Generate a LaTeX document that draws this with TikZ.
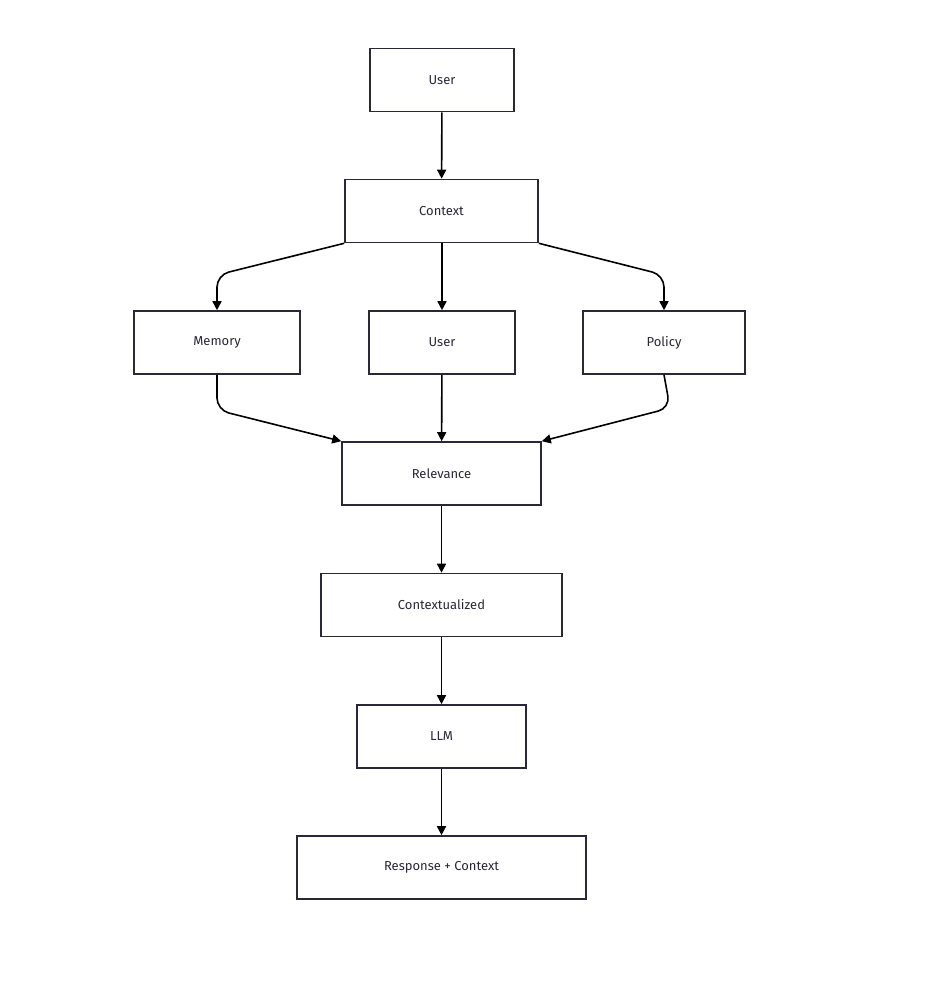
\documentclass[tikz,border=0pt]{standalone}
\usepackage{fontspec}
\setmainfont{Fira Sans}
\usetikzlibrary{arrows.meta}
\definecolor{bd}{HTML}{2A2838}
\begin{document}
\begin{tikzpicture}[x=1pt,y=-1pt,
  box/.style={draw=bd,line width=1.6pt,fill=white,inner sep=0pt,minimum height=63pt,font=\fontsize{13}{15}\selectfont\color{bd}},
  ar/.style={draw=black,line width=1.6pt,-{Triangle[length=9pt,width=9pt]},rounded corners=12pt}]
\useasboundingbox (0,0) rectangle (936,1006);
\node[box,minimum width=144pt] (u1) at (442,80) {User};
\node[box,minimum width=193pt] (ctx) at (441.5,211) {Context};
\node[box,minimum width=166pt] (mem) at (217,342.5) {Memory};
\node[box,minimum width=146pt] (u2) at (442,342.5) {User};
\node[box,minimum width=162pt] (pol) at (664,342.5) {Policy};
\node[box,minimum width=199pt] (rel) at (441.5,473.5) {Relevance};
\node[box,minimum width=241pt] (cz) at (441.5,605) {Contextualized};
\node[box,minimum width=169pt] (llm) at (441.5,736.5) {LLM};
\node[box,minimum width=289pt] (resp) at (441.5,867.5) {Response + Context};
\draw[ar] (u1) -- (ctx);
\draw[ar] (ctx.south west) -- (217,275) -- (mem.north);
\draw[ar] (ctx.south) ++(0.5,0) -- (u2.north);
\draw[ar] (ctx.south east) -- (664,275) -- (pol.north);
\draw[ar] (mem.south) -- (217,410) -- (rel.north west);
\draw[ar] (u2) -- (rel);
\draw[ar] (pol.south) -- (670,408) -- (rel.north east);
\draw[ar] (rel) -- (cz);
\draw[ar] (cz) -- (llm);
\draw[ar] (llm) -- (resp);
\end{tikzpicture}
\end{document}
